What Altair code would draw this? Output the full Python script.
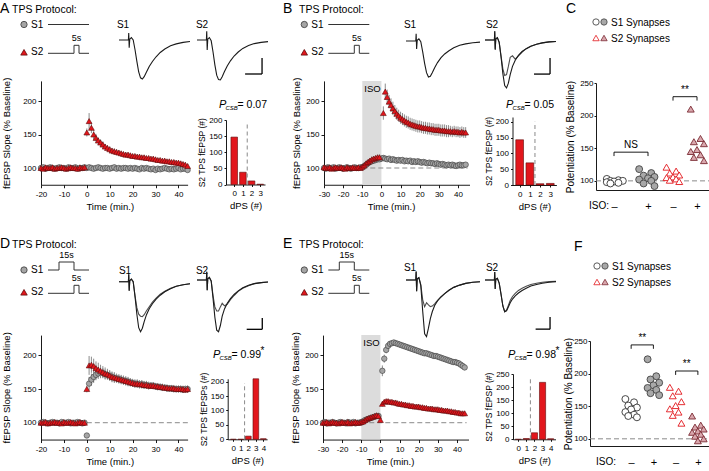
import altair as alt
import pandas as pd

W, H = 709, 471
FONT = "Liberation Sans"
RED, RED_EDGE = "#e2161c", "#5e0b0b"
GREY, GREY_EDGE = "#a5a5a5", "#3a3a3a"
PINK, PINK_EDGE = "#d9a7ad", "#7a2a33"
TC_YDOM = [75, 230]

# ---------------- time courses (% baseline, one value per minute) ----------------
A_S1_PRE = [100, 101, 99, 100, 101, 100, 99, 100, 101, 100, 100, 99, 101, 100, 100, 101, 99, 100, 100, 101]
A_S1_PRE_SEM = [2, 1, 2, 2, 1, 2, 2, 1, 2, 2, 1, 2, 2, 1, 2, 2, 1, 2, 2, 1]
A_S1_POST = [100, 101, 100, 99, 100, 101, 100, 99, 100, 100, 99, 100, 101, 99, 100, 99, 100, 100, 99, 100,
             99, 100, 99, 98, 100, 99, 100, 99, 98, 99, 97, 99, 98, 99, 100, 99, 98, 99, 98, 99,
             100, 98, 99, 99, 97]
A_S1_POST_SEM = [2, 2, 2, 2, 2, 2, 2, 2, 2, 2, 2, 2, 2, 2, 2, 2, 2, 2, 2, 2,
                 2, 2, 2, 2, 2, 2, 2, 2, 2, 2, 3, 2, 2, 2, 2, 2, 2, 2, 2, 2,
                 2, 2, 2, 2, 3]
A_S2_PRE = [100, 99, 101, 100, 100, 101, 99, 100, 100, 101, 100, 99, 100, 101, 100, 100, 99, 101, 100, 101]
A_S2_PRE_SEM = [2, 2, 1, 2, 2, 1, 2, 2, 1, 2, 2, 1, 2, 2, 1, 2, 2, 1, 2, 2]
A_S2_POST = [153, 170, 160, 150, 145, 141, 138, 135, 132, 130, 128, 126, 125, 124, 123, 122, 121, 120, 120, 119,
             118, 118, 117, 117, 116, 116, 115, 115, 114, 114, 113, 112, 112, 111, 111, 110, 110, 109, 109, 108,
             108, 107, 106, 105, 103]
A_S2_POST_SEM = [6, 12, 8, 7, 6, 5, 5, 5, 4, 4, 4, 4, 4, 4, 4, 3, 3, 3, 3, 3,
                 3, 3, 3, 3, 3, 3, 3, 3, 3, 3, 3, 3, 3, 3, 3, 3, 3, 3, 3, 3,
                 3, 3, 3, 3, 3]

B_S1_PRE = [100, 99, 101, 100, 100, 101, 99, 100, 101, 100, 99, 100, 101, 100, 99, 100, 101, 100, 100, 101,
            101, 103, 105, 107, 109, 110, 111, 112, 113, 113]
B_S1_PRE_SEM = [2, 2, 2, 2, 2, 2, 2, 2, 2, 2, 2, 2, 2, 2, 2, 2, 2, 2, 2, 2,
                2, 3, 3, 3, 3, 4, 4, 4, 4, 4]
B_S1_POST = [114, 115, 114, 113, 114, 112, 113, 112, 111, 112, 111, 112, 110, 111, 110, 111, 109, 110, 109, 110,
             109, 108, 109, 108, 107, 108, 107, 107, 106, 107, 106, 105, 106, 105, 104, 105, 104, 105, 104, 103,
             104, 105, 104, 104, 105]
B_S1_POST_SEM = [4, 4, 4, 4, 4, 4, 4, 4, 4, 4, 4, 4, 4, 4, 4, 4, 4, 4, 4, 4,
                 4, 4, 4, 4, 4, 4, 4, 4, 4, 4, 4, 4, 4, 4, 4, 4, 4, 4, 4, 4,
                 4, 4, 4, 4, 4]
B_S2_PRE = [101, 100, 100, 101, 99, 100, 101, 100, 100, 101, 100, 99, 101, 100, 100, 101, 100, 100, 101, 100,
            102, 104, 107, 109, 111, 113, 114, 115, 116, 116]
B_S2_PRE_SEM = [2, 2, 2, 2, 2, 2, 2, 2, 2, 2, 2, 2, 2, 2, 2, 2, 2, 2, 2, 2,
                3, 3, 3, 3, 4, 4, 4, 4, 4, 4]
B_S2_POST = [182, 214, 206, 199, 194, 189, 185, 181, 178, 175, 173, 171, 169, 168, 166, 165, 164, 163, 162, 162,
             161, 160, 160, 159, 159, 158, 158, 157, 157, 157, 156, 156, 156, 155, 155, 155, 154, 155, 154, 154,
             153, 154, 153, 153]
B_S2_POST_SEM = [10, 12, 11, 10, 10, 10, 9, 9, 9, 9, 9, 9, 9, 9, 9, 9, 9, 9, 9, 9,
                 9, 9, 9, 9, 9, 9, 9, 9, 9, 9, 9, 9, 9, 9, 9, 8, 8, 8, 8, 8,
                 8, 8, 8, 8]

D_S1_PRE = [100, 101, 100, 99, 100, 101, 100, 100, 99, 101, 100, 100, 101, 99, 100, 100, 101, 100, 99, 100]
D_S1_PRE_SEM = [2, 2, 2, 2, 2, 2, 2, 2, 2, 2, 2, 2, 2, 2, 2, 2, 2, 2, 2, 2]
D_S1_POST = [81, 158, 164, 168, 171, 173, 174, 174, 172, 171, 170, 168, 167, 166, 165, 164, 163, 162, 161, 160,
             159, 158, 158, 157, 157, 156, 156, 155, 155, 155, 154, 153, 153, 152, 152, 151, 151, 151, 150, 150,
             150, 150, 149, 150, 150]
D_S1_POST_SEM = [3, 10, 9, 9, 8, 8, 8, 7, 7, 7, 7, 7, 7, 6, 6, 6, 6, 6, 6, 6,
                 6, 6, 6, 6, 6, 6, 6, 5, 5, 5, 5, 5, 5, 5, 5, 5, 5, 5, 5, 5,
                 5, 5, 5, 5, 5]
D_S2_PRE = [100, 100, 101, 99, 100, 100, 101, 100, 100, 99, 101, 100, 100, 101, 100, 99, 100, 101, 100, 100]
D_S2_PRE_SEM = [2, 2, 2, 2, 2, 2, 2, 2, 2, 2, 2, 2, 2, 2, 2, 2, 2, 2, 2, 2]
D_S2_POST = [150, 185, 186, 184, 181, 179, 177, 175, 173, 172, 170, 168, 167, 166, 165, 164, 163, 162, 161, 160,
             159, 158, 158, 157, 157, 156, 156, 155, 155, 155, 154, 154, 153, 153, 152, 152, 151, 151, 151, 150,
             150, 150, 150, 149, 150]
D_S2_POST_SEM = [5, 14, 12, 11, 10, 10, 9, 9, 9, 8, 8, 8, 8, 7, 7, 7, 7, 7, 7, 6,
                 6, 6, 6, 6, 6, 6, 6, 6, 5, 5, 5, 5, 5, 5, 5, 5, 5, 5, 5, 5,
                 5, 5, 5, 5, 5]

E_S1_PRE = [100, 101, 99, 100, 100, 101, 100, 99, 100, 101, 100, 100, 99, 101, 100, 100, 101, 99, 100, 100,
            101, 102, 104, 105, 106, 107, 108, 109, 110, 110]
E_S1_PRE_SEM = [2, 2, 2, 2, 2, 2, 2, 2, 2, 2, 2, 2, 2, 2, 2, 2, 2, 2, 2, 2,
                2, 2, 2, 2, 2, 3, 3, 3, 3, 3]
E_S1_POST = [177, 195, 208, 214, 217, 218, 219, 218, 217, 216, 215, 214, 213, 212, 211, 210, 209, 208, 207, 206,
             205, 204, 203, 203, 202, 201, 200, 199, 199, 198, 197, 196, 195, 194, 193, 192, 191, 190, 190, 189,
             188, 186, 184, 182]
E_S1_POST_SEM = [8, 6, 5, 5, 4, 4, 4, 4, 4, 4, 4, 4, 4, 4, 4, 4, 4, 4, 4, 4,
                 4, 4, 4, 4, 4, 4, 4, 4, 4, 4, 4, 4, 4, 4, 4, 4, 4, 4, 4, 4,
                 4, 4, 4, 4]
E_S2_PRE = [100, 100, 101, 99, 100, 101, 100, 100, 99, 100, 101, 100, 100, 101, 99, 100, 100, 101, 100, 100,
            101, 102, 104, 106, 107, 108, 109, 110, 111, 110]
E_S2_PRE_SEM = [2, 2, 2, 2, 2, 2, 2, 2, 2, 2, 2, 2, 2, 2, 2, 2, 2, 2, 2, 2,
                2, 2, 2, 2, 3, 3, 3, 3, 3, 3]
E_S2_POST = [104, 128, 131, 132, 132, 131, 131, 130, 130, 129, 128, 128, 127, 127, 126, 126, 125, 125, 124, 124,
             124, 123, 123, 122, 122, 121, 121, 121, 120, 120, 120, 119, 119, 118, 118, 118, 117, 117, 116, 116,
             115, 115, 114, 114, 114]
E_S2_POST_SEM = [3, 4, 3, 3, 3, 3, 3, 3, 3, 3, 3, 3, 3, 3, 3, 3, 3, 3, 3, 3,
                 3, 3, 3, 3, 3, 3, 3, 3, 3, 3, 3, 3, 3, 3, 3, 3, 3, 3, 3, 3,
                 3, 3, 3, 3, 3]

# ---------------- S2 TPS fEPSP counts per dPS ----------------
HIST_A = [147, 38, 11, 1]
HIST_B = [143, 70, 4, 5]
HIST_D = [0, 0, 11, 210, 2]
HIST_E = [0, 3, 25, 218, 2]

# ---------------- potentiation per slice: S1 -ISO, S1 +ISO, S2 -ISO, S2 +ISO ----------------
C_GROUPS = [[103, 101, 100, 100, 99, 98, 97, 96],
            [118, 112, 108, 106, 104, 102, 100, 96, 92],
            [121, 115, 112, 109, 106, 105, 103, 101, 99],
            [210, 165, 160, 157, 148, 145, 140, 136, 131]]
F_GROUPS = [[161, 156, 151, 148, 145, 141, 137, 135, 133],
            [222, 196, 191, 186, 182, 178, 175, 170, 167],
            [179, 173, 166, 157, 151, 146, 141, 136, 124],
            [135, 121, 118, 115, 112, 110, 107, 104, 100, 97]]
C_BRACKETS = [(0, 1, 144, "NS"), (2, 3, 229, "**")]
F_BRACKETS = [(0, 1, 244, "**"), (2, 3, 204, "**")]

# ---------------- example fEPSP waveforms (ms, normalised amplitude) ----------------
TRACE_T = [0, 4.1, 4.25, 4.45, 4.7, 5.4, 6.2, 7.0, 7.8, 8.6, 9.4, 10.2, 11.0, 12.0, 13.2, 14.6,
           16.2, 18.0, 20.0, 22.5, 25.0, 28.0, 31.0]
TR_A_S1 = [0, 0, 0.18, -0.2, 0.02, 0.06, 0.0, -0.25, -0.55, -0.82, -0.97, -1.0, -0.94, -0.82, -0.68, -0.55,
           -0.43, -0.32, -0.23, -0.15, -0.1, -0.06, -0.04]
TR_A_S2 = [0, 0, 0.22, -0.25, 0.02, 0.06, -0.02, -0.3, -0.62, -0.88, -0.99, -1.0, -0.92, -0.79, -0.65, -0.52,
           -0.4, -0.3, -0.21, -0.14, -0.09, -0.06, -0.04]
TR_B_S1 = [0, 0, 0.2, -0.22, 0.02, 0.06, -0.02, -0.3, -0.62, -0.88, -1.0, -0.98, -0.88, -0.74, -0.6, -0.47,
           -0.36, -0.27, -0.19, -0.12, -0.08, -0.05, -0.03]
TR_B_S2_AFTER = [0, 0, 0.18, -0.2, 0.02, 0.05, -0.05, -0.35, -0.7, -0.95, -1.0, -0.9, -0.72, -0.55, -0.42, -0.32,
                 -0.24, -0.18, -0.13, -0.09, -0.06, -0.04, -0.03]
TR_B_S2_BEFORE = [0, 0, 0.18, -0.2, 0.02, 0.05, -0.05, -0.33, -0.6, -0.74, -0.72, -0.55, -0.36, -0.33, -0.4, -0.33,
                  -0.25, -0.18, -0.13, -0.09, -0.06, -0.04, -0.03]
TR_D_S1_AFTER = [0, 0, 0.15, -0.18, 0.02, 0.05, 0.0, -0.3, -0.65, -0.92, -1.0, -0.93, -0.8, -0.66, -0.54, -0.44,
                 -0.35, -0.27, -0.2, -0.14, -0.09, -0.06, -0.04]
TR_D_S1_BEFORE = [0, 0, 0.15, -0.18, 0.02, 0.05, 0.0, -0.28, -0.52, -0.65, -0.69, -0.7, -0.66, -0.58, -0.5, -0.41,
                  -0.33, -0.25, -0.19, -0.13, -0.09, -0.06, -0.04]
TR_D_S2_AFTER = [0, 0, 0.16, -0.2, 0.02, 0.05, -0.02, -0.35, -0.72, -0.97, -1.0, -0.88, -0.7, -0.56, -0.45, -0.36,
                 -0.28, -0.21, -0.15, -0.1, -0.07, -0.05, -0.04]
TR_D_S2_BEFORE = [0, 0, 0.16, -0.2, 0.02, 0.05, -0.02, -0.3, -0.52, -0.6, -0.6, -0.52, -0.45, -0.5, -0.47, -0.38,
                  -0.3, -0.22, -0.16, -0.11, -0.07, -0.05, -0.04]
TR_E_S1_AFTER = [0, 0, 0.15, -0.2, 0.02, 0.04, -0.1, -0.55, -0.95, -1.0, -0.85, -0.68, -0.56, -0.45, -0.37, -0.3,
                 -0.24, -0.18, -0.13, -0.09, -0.06, -0.04, -0.03]
TR_E_S1_BEFORE = [0, 0, 0.15, -0.2, 0.02, 0.04, -0.08, -0.35, -0.47, -0.4, -0.44, -0.47, -0.46, -0.42, -0.36, -0.3,
                  -0.24, -0.18, -0.13, -0.09, -0.06, -0.04, -0.03]
TR_E_S2_AFTER = [0, 0, 0.25, -0.28, 0.02, 0.05, -0.1, -0.45, -0.82, -1.0, -0.97, -0.85, -0.72, -0.6, -0.5, -0.41,
                 -0.33, -0.26, -0.19, -0.14, -0.1, -0.07, -0.05]
TR_E_S2_BEFORE = [0, 0, 0.25, -0.28, 0.02, 0.05, -0.1, -0.45, -0.82, -1.0, -0.95, -0.8, -0.65, -0.52, -0.42, -0.33,
                  -0.26, -0.2, -0.14, -0.1, -0.07, -0.05, -0.04]

# stimulation pulses (start s, duration s) in the protocol sketches
PULSE_S2 = (26, 5)
PULSE_S1 = (11, 15)

ONE = pd.DataFrame({"k": [0]})


def sc(domain, rng):
    return alt.Scale(domain=list(domain), range=list(rng), nice=False, zero=False)


def text(x, y, s, size=10, align="left", baseline="middle", style="normal", color="black"):
    return alt.Chart(ONE).mark_text(
        text=s, font=FONT, fontSize=size, align=align, baseline=baseline, fontStyle=style, color=color
    ).encode(x=alt.value(x), y=alt.value(y))


def marker(x, y, shape, fill, stroke, size=40, sw=0.8):
    return alt.Chart(ONE).mark_point(
        shape=shape, filled=True, fill=fill, stroke=stroke, strokeWidth=sw, size=size, opacity=1
    ).encode(x=alt.value(x), y=alt.value(y))


def series(pre, pre_sem, t_pre, post, post_sem, t_post):
    t = list(range(t_pre, t_pre + len(pre))) + list(range(t_post, t_post + len(post)))
    df = pd.DataFrame({"t": t, "v": pre + post, "sem": pre_sem + post_sem})
    df["lo"] = df["v"] - df["sem"]
    df["hi"] = df["v"] + df["sem"]
    return df


CIRCLE = dict(shape="circle", filled=True, fill=GREY, stroke=GREY_EDGE, strokeWidth=0.6, size=30, opacity=1)
TRI = dict(shape="triangle-up", filled=True, fill=RED, stroke=RED_EDGE, strokeWidth=0.6, size=34, opacity=1)


def time_course(xpx, xdom, ypx, ticks, s1, s2, dash, iso=None, title_pad=11):
    xs = sc(xdom, xpx)
    ys = sc(TC_YDOM, ypx)
    k = (xpx[1] - xpx[0]) / (xdom[1] - xdom[0])
    title_x = xpx[0] + ((ticks[0] + ticks[-1]) / 2 - xdom[0]) * k
    xax = alt.Axis(orient="bottom", offset=ypx[0] - H, values=ticks, title="Time (min.)",
                   labelExpr="toString(datum.value)", tickSize=3, labelPadding=3, titlePadding=3, titleX=title_x)
    yax = alt.Axis(orient="left", offset=-xpx[0], values=[100, 150, 200], title="fEPSP Slope (% Baseline)",
                   tickSize=3, labelPadding=2, titlePadding=title_pad)

    def X(f):
        return alt.X(f, type="quantitative", scale=xs, axis=xax)

    def Y(f):
        return alt.Y(f, type="quantitative", scale=ys, axis=yax)

    parts = []
    if iso:
        d = pd.DataFrame({"t": [iso[0]], "t2": [iso[1]], "v": [TC_YDOM[0]], "v2": [TC_YDOM[1]]})
        parts.append(alt.Chart(d).mark_rect(color="#dcdcdc").encode(x=X("t"), x2="t2", y=Y("v"), y2="v2"))
        parts.append(alt.Chart(d).mark_text(text="ISO", font=FONT, fontSize=9.5, align="left", baseline="top",
                                            dx=2, dy=3).encode(x=X("t"), y=Y("v2")))
    d = pd.DataFrame({"t": [dash[0]], "t2": [dash[1]], "v": [100]})
    parts.append(alt.Chart(d).mark_rule(color="#8a8a8a", strokeDash=[5, 3], strokeWidth=1)
                 .encode(x=X("t"), x2="t2", y=Y("v")))
    for s, style in ((s1, CIRCLE), (s2, TRI)):
        parts.append(alt.Chart(s).mark_rule(color="#8c8c8c", strokeWidth=1).encode(x=X("t"), y=Y("lo"), y2="hi"))
        parts.append(alt.Chart(s).mark_point(**style).encode(x=X("t"), y=Y("v")))
    return alt.layer(*parts)


def histogram(counts, xpx, xdom, ypx, ydom, yticks, ytitle):
    xs = sc(xdom, xpx)
    ys = sc(ydom, ypx)
    xax = alt.Axis(orient="bottom", offset=ypx[0] - H, values=list(range(len(counts))), title="dPS (#)",
                   tickSize=2, labelPadding=3, titlePadding=3)
    yax = alt.Axis(orient="left", offset=-xpx[0], values=yticks, title=ytitle, tickSize=2, labelPadding=2,
                   titlePadding=2, titleFontSize=8.5)
    df = pd.DataFrame({"k": list(range(len(counts))), "n": counts})
    bars = alt.Chart(df).transform_calculate(
        a="datum.k - 0.38", b="datum.k + 0.38", z="0"
    ).mark_bar(fill=RED, stroke=RED_EDGE, strokeWidth=0.6).encode(
        x=alt.X("a:Q", scale=xs, axis=xax), x2="b",
        y=alt.Y("n:Q", scale=ys, axis=yax), y2="z"
    )
    dd = pd.DataFrame({"a": [1.5], "n": [0], "n2": [ydom[1] * 0.93]})
    dash = alt.Chart(dd).mark_rule(color="#8a8a8a", strokeDash=[4, 3], strokeWidth=1).encode(
        x=alt.X("a:Q", scale=xs, axis=xax), y=alt.Y("n:Q", scale=ys, axis=yax), y2="n2")
    return alt.layer(bars, dash)


def pcsb(x, y, val, star):
    out = [text(x, y, "P", 11, style="italic"),
           text(x + 6.5, y + 3, "CSB", 6, style="italic"),
           text(x + 18.5, y, "= " + val, 10.5)]
    if star:
        out.append(text(x + 47.5, y - 4, "*", 10))
    return out


def traces(xpx, ybase, ymin, curves, bar=None):
    xs = sc([0, 31], xpx)
    ys = sc([-1, 0], [ymin, ybase])
    X = alt.X("ms:Q", scale=xs, axis=None)
    Y = alt.Y("mv:Q", scale=ys, axis=None)
    parts = []
    for vals, col in curves:
        df = pd.DataFrame({"ms": TRACE_T, "mv": vals})
        parts.append(alt.Chart(df).mark_line(color=col, strokeWidth=1.1).encode(x=X, y=Y))
    if bar:
        ta, tb, va, vb = bar
        h = pd.DataFrame({"ms": [ta], "ms2": [tb], "mv": [vb]})
        v = pd.DataFrame({"ms": [tb], "mv": [va], "mv2": [vb]})
        parts.append(alt.Chart(h).mark_rule(color="black", strokeWidth=1.3).encode(x=X, x2="ms2", y=Y))
        parts.append(alt.Chart(v).mark_rule(color="black", strokeWidth=1.3).encode(x=X, y=Y, y2="mv2"))
    return alt.layer(*parts)


def step_rows(pulse):
    if pulse is None:
        return [0, 41], [0, 0]
    a, d = pulse
    return [0, a, a, a + d, a + d, 41], [0, 0, 1, 1, 0, 0]


def protocol(x0, y1, y2, p1, p2):
    xs = sc([0, 41], [x0, x0 + 41])
    out = []
    for pulse, ylow in ((p1, y1), (p2, y2)):
        ys = sc([0, 1], [ylow, ylow - 8])
        s, lv = step_rows(pulse)
        df = pd.DataFrame({"s": s, "lv": lv, "o": list(range(len(s)))})
        X = alt.X("s:Q", scale=xs, axis=None)
        Y = alt.Y("lv:Q", scale=ys, axis=None)
        parts = [alt.Chart(df).mark_line(color="#333333", strokeWidth=1).encode(x=X, y=Y, order="o:Q")]
        if pulse is not None:
            ld = pd.DataFrame({"s": [pulse[0] + pulse[1] / 2], "lv": [1], "txt": [f"{pulse[1]}s"]})
            parts.append(alt.Chart(ld).mark_text(font=FONT, fontSize=9, baseline="bottom", dy=-2)
                         .encode(x=X, y=Y, text="txt:N"))
        out.append(alt.layer(*parts))
    out += [marker(x0 - 24, y1, "circle", GREY, GREY_EDGE, 40),
            text(x0 - 17, y1, "S1", 10),
            marker(x0 - 24, y2 - 1, "triangle-up", RED, RED_EDGE, 42),
            text(x0 - 17, y2 - 1, "S2", 10)]
    return out


def jitter(n):
    return [(((i * 3) % 5) - 2) * 0.13 for i in range(n)]


GROUP_STYLE = [
    dict(shape="circle", fill="white", stroke="#333333"),
    dict(shape="circle", fill="#a8a8a8", stroke="#444444"),
    dict(shape="triangle-up", fill="white", stroke=RED),
    dict(shape="triangle-up", fill=PINK, stroke=PINK_EDGE),
]

LABEL_PAD = 10


def scatter(xpx, xdom, ypx, ydom, groups, brackets, title_pad=4):
    # xdom / xpx may hold more than two stops (piecewise-linear group spacing)
    xs = sc(xdom, xpx)
    ys = sc(ydom, ypx[:2])
    xax = alt.Axis(orient="bottom", offset=ypx[0] - H, values=[0, 1, 2, 3],
                   labelExpr="datum.value % 2 == 0 ? '\u2013' : '+'", ticks=False, labelFontSize=11,
                   labelPadding=LABEL_PAD, title=None)
    yax = alt.Axis(orient="left", offset=-xpx[0], values=[100, 150, 200, 250], title="Potentiation (% Baseline)",
                   tickSize=2, labelPadding=1, titlePadding=title_pad, labelFontSize=8, titleFontSize=10)

    def X(f):
        return alt.X(f, type="quantitative", scale=xs, axis=xax)

    def Y(f):
        return alt.Y(f, type="quantitative", scale=ys, axis=yax)

    parts = []
    d = pd.DataFrame({"c": [xdom[0]], "c2": [xdom[-1]], "p": [100]})
    parts.append(alt.Chart(d).mark_rule(color="#8a8a8a", strokeDash=[5, 3], strokeWidth=1)
                 .encode(x=X("c"), x2="c2", y=Y("p")))
    for g, (vals, st) in enumerate(zip(groups, GROUP_STYLE)):
        vs = sorted(vals, reverse=True)
        df = pd.DataFrame({"c": [g + j for j in jitter(len(vs))], "p": vs})
        parts.append(alt.Chart(df).mark_point(filled=True, size=48, strokeWidth=0.9, opacity=1, **st)
                     .encode(x=X("c"), y=Y("p")))
    for a, b, yv, lab in brackets:
        hd = pd.DataFrame({"c": [a], "c2": [b], "p": [yv]})
        vd = pd.DataFrame({"c": [a, b], "p": [yv - 6, yv - 6], "p2": [yv, yv]})
        td = pd.DataFrame({"c": [(a + b) / 2], "p": [yv], "lab": [lab]})
        parts.append(alt.Chart(hd).mark_rule(color="black", strokeWidth=0.9).encode(x=X("c"), x2="c2", y=Y("p")))
        parts.append(alt.Chart(vd).mark_rule(color="black", strokeWidth=0.9).encode(x=X("c"), y=Y("p"), y2="p2"))
        parts.append(alt.Chart(td).mark_text(font=FONT, fontSize=10, baseline="bottom", dy=-2)
                     .encode(x=X("c"), y=Y("p"), text="lab:N"))
    return alt.layer(*parts)


def legend(x, y1, y2):
    return [marker(x, y1, "circle", "white", "#333333", 40),
            marker(x + 8, y1, "circle", "#a8a8a8", "#444444", 40),
            text(x + 15, y1 + 0.5, "S1 Synapses", 10),
            marker(x, y2, "triangle-up", "white", RED, 40),
            marker(x + 8, y2, "triangle-up", PINK, PINK_EDGE, 40),
            text(x + 15, y2 + 0.5, "S2 Synapses", 10)]


L = []

# ---------- A ----------
L += [text(0, 9, "A", 14), text(12, 10, "TPS Protocol:", 10.5)]
L += protocol(48, 24.5, 53.3, None, PULSE_S2)
L += [text(123, 25, "S1", 10, align="center"), text(202, 25, "S2", 10, align="center")]
L.append(traces([119, 190], 40, 79, [(TR_A_S1, "#1a1a1a")]))
L.append(traces([197, 268], 40, 80, [(TR_A_S2, "#1a1a1a")], bar=(21, 28.4, -0.45, -0.85)))
L.append(time_course([41, 187.6], [-20, 44], [184.75, 80.9], list(range(-20, 41, 10)),
                     series(A_S1_PRE, A_S1_PRE_SEM, -20, A_S1_POST, A_S1_POST_SEM, 0),
                     series(A_S2_PRE, A_S2_PRE_SEM, -20, A_S2_POST, A_S2_POST_SEM, 0),
                     dash=(0, 44)))
L.append(histogram(HIST_A, [226, 265], [-0.95, 3.55], [184.5, 120], [0, 200], [0, 50, 100, 150, 200],
                   "S2 TPS fEPSP (#)"))
L += pcsb(219, 105, "0.07", False)

# ---------- B ----------
L += [text(283, 9, "B", 14), text(299, 10, "TPS Protocol:", 10.5)]
L += protocol(328.3, 24.5, 53.3, None, PULSE_S2)
L += [text(410, 25, "S1", 10, align="center"), text(492, 25, "S2", 10, align="center")]
L.append(traces([406, 480], 41, 77, [(TR_B_S1, "#1a1a1a")]))
L.append(traces([485, 556], 40, 88, [(TR_B_S2_BEFORE, "#4d4d4d"), (TR_B_S2_AFTER, "#1a1a1a")],
                bar=(21.4, 28.4, -0.375, -0.71)))
L.append(time_course([324, 469.5], [-30, 46], [184.75, 80.9], list(range(-30, 41, 10)),
                     series(B_S1_PRE, B_S1_PRE_SEM, -30, B_S1_POST, B_S1_POST_SEM, 0),
                     series(B_S2_PRE, B_S2_PRE_SEM, -30, B_S2_POST, B_S2_POST_SEM, 1),
                     dash=(-10, 45), iso=(-10, 0), title_pad=4))
L.append(histogram(HIST_B, [512.5, 556.4], [-0.7, 3.6], [185, 117], [0, 215], [0, 50, 100, 150, 200],
                   "S2 TPS fEPSP (#)"))
L += pcsb(506, 105, "0.05", False)

# ---------- C ----------
C_AXIS_Y = 190
L += [text(566, 9, "C", 14)]
L += legend(596, 22, 38)
L.append(scatter([596, 614, 648, 673, 697, 709], [-0.65, 0, 1, 2, 3, 3.45], [C_AXIS_Y, 83], [86, 250],
                 C_GROUPS, C_BRACKETS))
L.append(text(589, C_AXIS_Y + LABEL_PAD + 6, "ISO:", 10))

# ---------- D ----------
L += [text(0, 244, "D", 14), text(12, 245, "TPS Protocol:", 10.5)]
L += protocol(48, 270, 293.3, PULSE_S1, PULSE_S2)
L += [text(125, 271, "S1", 10, align="center"), text(202, 271, "S2", 10, align="center")]
L.append(traces([119, 190], 281.7, 331.7, [(TR_D_S1_BEFORE, "#4d4d4d"), (TR_D_S1_AFTER, "#1a1a1a")]))
L.append(traces([197, 268], 280, 331.7, [(TR_D_S2_BEFORE, "#4d4d4d"), (TR_D_S2_AFTER, "#1a1a1a")],
                bar=(21.7, 28.5, -0.735, -0.954)))
L.append(time_course([41, 187.6], [-20, 44], [439.55, 335.1], list(range(-20, 41, 10)),
                     series(D_S1_PRE, D_S1_PRE_SEM, -20, D_S1_POST, D_S1_POST_SEM, 0),
                     series(D_S2_PRE, D_S2_PRE_SEM, -20, D_S2_POST, D_S2_POST_SEM, 0),
                     dash=(0, 45)))
L.append(histogram(HIST_D, [227.7, 267.1], [-0.75, 4.5], [439.3, 378.8], [0, 210], [0, 50, 100, 150, 200],
                   "S2 TPS fEPSPs (#)"))
L += pcsb(213, 355, "0.99", True)

# ---------- E ----------
L += [text(283, 244, "E", 14), text(299, 245, "TPS Protocol:", 10.5)]
L += protocol(328.3, 270, 293.3, PULSE_S1, PULSE_S2)
L += [text(410, 268, "S1", 10, align="center"), text(492, 268, "S2", 10, align="center")]
L.append(traces([406, 480], 280, 336.7, [(TR_E_S1_BEFORE, "#4d4d4d"), (TR_E_S1_AFTER, "#1a1a1a")]))
L.append(traces([485, 556], 280, 311.7, [(TR_E_S2_BEFORE, "#4d4d4d"), (TR_E_S2_AFTER, "#1a1a1a")],
                bar=(22.1, 28.4, -1.17, -1.55)))
L.append(time_course([323, 468.5], [-30, 46], [439.55, 335.1], list(range(-30, 41, 10)),
                     series(E_S1_PRE, E_S1_PRE_SEM, -30, E_S1_POST, E_S1_POST_SEM, 1),
                     series(E_S2_PRE, E_S2_PRE_SEM, -30, E_S2_POST, E_S2_POST_SEM, 0),
                     dash=(-10, 45), iso=(-10, 0), title_pad=4))
L.append(histogram(HIST_E, [513, 555.5], [-0.65, 4.6], [439.3, 374], [0, 250], [0, 50, 100, 150, 200, 250],
                   "S2 TPS fEPSP (#)"))
L += pcsb(508, 355, "0.98", True)

# ---------- F ----------
F_AXIS_Y = 446
L += [text(574, 247, "F", 14)]
L += legend(597, 266, 282)
L.append(scatter([590, 709], [-1.85, 3.5], [F_AXIS_Y, 341], [89, 250], F_GROUPS, F_BRACKETS, title_pad=0))
L.append(text(596, F_AXIS_Y + LABEL_PAD + 6, "ISO:", 10))

chart = alt.layer(*L).resolve_scale(x="independent", y="independent").properties(
    width=W, height=H, padding=0, autosize=alt.AutoSizeParams(type="none"), background="white"
).configure_view(stroke=None).configure_axis(
    grid=False, domainColor="black", tickColor="black", labelColor="black", titleColor="black",
    labelFont=FONT, titleFont=FONT, labelFontSize=8, titleFontSize=9.5, titleFontWeight="normal",
    domainWidth=0.9, tickWidth=0.9, labelFlush=False, labelOverlap=False, labelBound=False
)

chart.save("out.html", embed_options={"renderer": "svg", "actions": False})
